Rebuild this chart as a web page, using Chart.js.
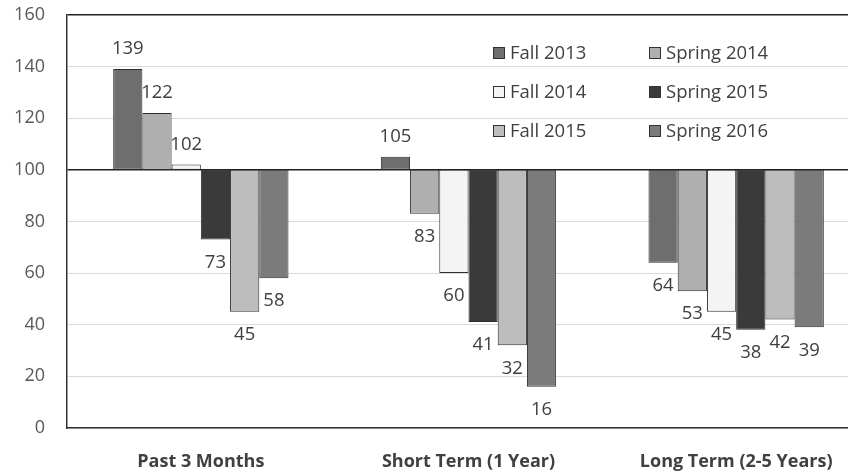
<!DOCTYPE html>
<html>
<head>
<meta charset="utf-8">
<script src="https://cdn.jsdelivr.net/npm/chart.js@4.4.0/dist/chart.umd.min.js"></script>
<style>
  html, body { margin: 0; padding: 0; background: #fff; overflow: hidden; }
  #wrap { position: relative; width: 870px; height: 491px; margin-top: -18px; }
</style>
</head>
<body>
<div id="wrap"><canvas id="expectChart" width="870" height="491"></canvas></div>
<script>
// categories and series (index values, 100 = no change)
const categories = ['Past 3 Months', 'Short Term (1 Year)', 'Long Term (2-5 Years)'];
const seriesNames = ['Fall 2013', 'Spring 2014', 'Fall 2014', 'Spring 2015', 'Fall 2015', 'Spring 2016'];
const fall2013 = [139, 105, 64];
const spring2014 = [122, 83, 53];
const fall2014 = [102, 60, 45];
const spring2015 = [73, 41, 38];
const fall2015 = [45, 32, 42];
const spring2016 = [58, 16, 39];
const baseline = 100;
const yTicks = [0, 20, 40, 60, 80, 100, 120, 140, 160];

const seriesValues = [fall2013, spring2014, fall2014, spring2015, fall2015, spring2016];
const seriesColors = ['#6e6e6e', '#afafaf', '#f4f4f4', '#3a3a3a', '#bdbdbd', '#7b7b7b'];

const FONT = "'Open Sans', 'Liberation Sans', sans-serif";

// value labels at the end of each bar (above if > 100, below otherwise)
const barLabels = {
    id: 'barLabels',
    afterDatasetsDraw(chart) {
        const ctx = chart.ctx;
        const yScale = chart.scales.y;
        ctx.save();
        ctx.font = '18.5px ' + FONT;
        ctx.fillStyle = '#404040';
        ctx.textAlign = 'center';
        ctx.textBaseline = 'middle';
        chart.data.datasets.forEach((ds, i) => {
            const meta = chart.getDatasetMeta(i);
            meta.data.forEach((bar, j) => {
                const v = seriesValues[i][j];
                const end = yScale.getPixelForValue(v);
                const y = v >= baseline ? end - 20 : end + 23;
                ctx.fillText(String(v), bar.x, y);
            });
        });
        ctx.restore();
    }
};

// legend drawn inside the plot, 2 columns x 3 rows (canvas is shifted up 18px)
const insideLegend = {
    id: 'insideLegend',
    afterDraw(chart) {
        const ctx = chart.ctx;
        const colX = [493, 649];
        const rowY = [71, 110, 149];
        ctx.save();
        ctx.font = '18.5px ' + FONT;
        ctx.textBaseline = 'middle';
        chart.data.datasets.forEach((ds, i) => {
            const x = colX[i % 2];
            const y = rowY[Math.floor(i / 2)];
            ctx.fillStyle = ds.backgroundColor;
            ctx.fillRect(x, y - 6, 12, 12);
            ctx.strokeStyle = '#333';
            ctx.lineWidth = 1;
            ctx.strokeRect(x + 0.5, y - 5.5, 11, 11);
            ctx.fillStyle = '#404040';
            ctx.fillText(ds.label, x + 17, y + 1);
        });
        ctx.restore();
    }
};

const ctx = document.getElementById('expectChart').getContext('2d');
const expectChart = new Chart(ctx, {
    type: 'bar',
    data: {
        labels: categories,
        datasets: seriesNames.map((name, i) => ({
            label: name,
            data: seriesValues[i].map(v => [baseline, v]),
            backgroundColor: seriesColors[i],
            borderColor: '#2e2e2e',
            borderWidth: 1,
            borderSkipped: false,
            categoryPercentage: 0.655,
            barPercentage: 1.0
        }))
    },
    options: {
        responsive: false,
        animation: false,
        layout: { padding: { top: 0, right: 0, left: 0, bottom: 0 } },
        plugins: {
            legend: { display: false },
            tooltip: { enabled: false }
        },
        scales: {
            x: {
                offset: true,
                grid: { display: false },
                border: { display: true, color: '#333', width: 1.5 },
                ticks: {
                    color: '#404040',
                    padding: 15,
                    font: { family: FONT, size: 18, weight: 'bold' }
                },
                afterFit: scale => { scale.height = 45; }
            },
            y: {
                min: 0,
                max: 160,
                afterBuildTicks: scale => { scale.ticks = yTicks.map(v => ({ value: v })); },
                grid: {
                    color: c => (c.tick.value === 100 || c.tick.value === 160) ? '#222' : '#dadada',
                    lineWidth: c => (c.tick.value === 100 || c.tick.value === 160) ? 1.5 : 1,
                    drawTicks: false
                },
                border: { display: true, color: '#333', width: 1.5 },
                ticks: {
                    color: '#595959',
                    padding: 22,
                    font: { family: FONT, size: 18 }
                },
                afterFit: scale => { scale.width = 67; }
            }
        }
    },
    plugins: [barLabels, insideLegend]
});
</script>
</body>
</html>
